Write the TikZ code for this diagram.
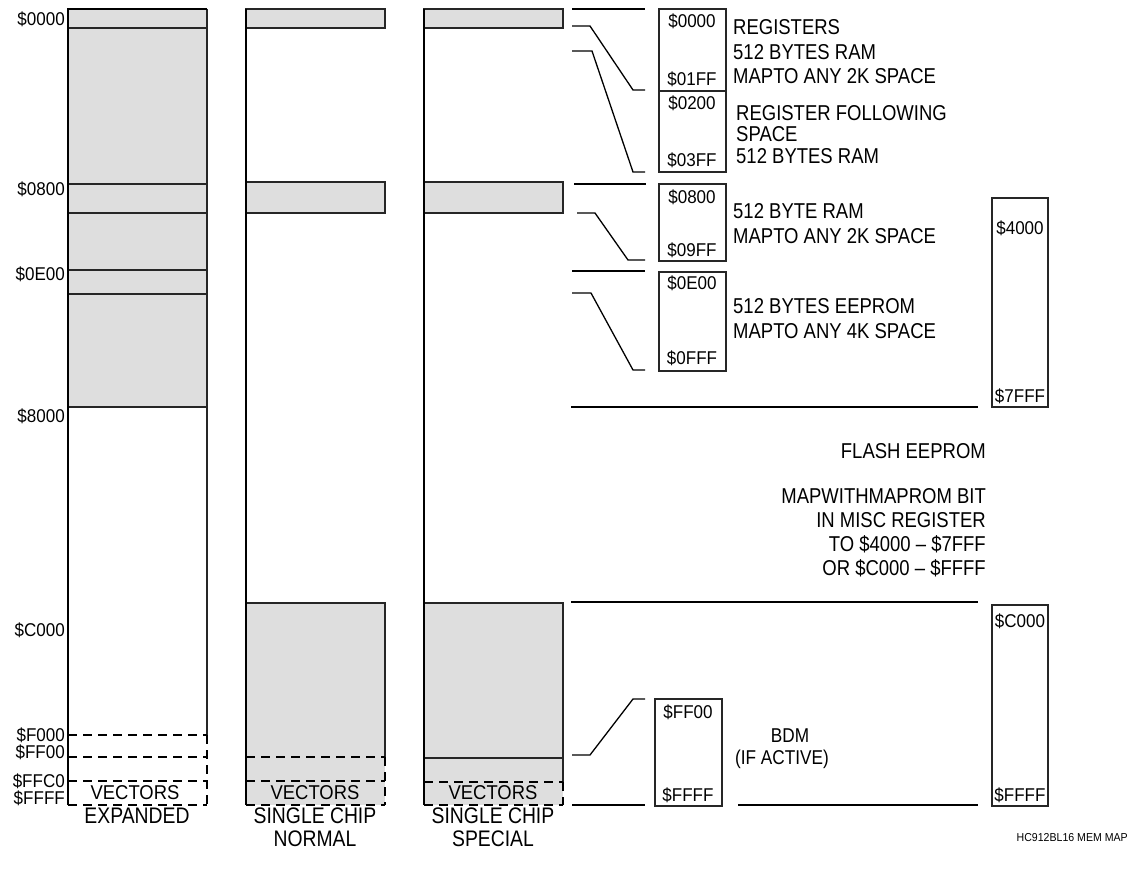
\documentclass[tikz,border=0pt]{standalone}
\usepackage{fontspec}
\setmainfont{Liberation Sans}[FakeStretch=0.92]
\newfontfamily\narrowfont{Liberation Sans}[FakeStretch=0.86,Ligatures=TeX]
\usetikzlibrary{calc}
\begin{document}
\begin{tikzpicture}[x=1pt,y=-1pt,
  thinl/.style={draw=black!85, line width=1.2pt},
  thick2/.style={draw=black, line width=2pt},
  gfill/.style={fill=black!13},
  dsh/.style={draw=black, dash pattern=on 9pt off 6pt, line width=1.8pt},
  addr/.style={font=\fontsize{18.5}{18.5}\selectfont, inner sep=0pt},
  vec/.style={font=\fontsize{20}{20}\selectfont, inner sep=0pt},
  txt/.style={font=\narrowfont\fontsize{21.5}{21.5}\selectfont, inner sep=0pt, anchor=west},
  rtxt/.style={font=\narrowfont\fontsize{21.5}{21.5}\selectfont, inner sep=0pt, anchor=east},
  clab/.style={font=\narrowfont\fontsize{22.5}{22.5}\selectfont, inner sep=0pt},
  conn/.style={draw=black, line width=1.3pt},
  sepl/.style={draw=black, line width=2pt}]
\useasboundingbox (0,0) rectangle (1136,872);
\fill[white] (0,0) rectangle (1136,872);

% ---------- column 1: expanded ----------
\fill[gfill] (68,9) rectangle (207,407);
\foreach \y in {28,184,213,270,294,407} \draw[thinl] (68,\y) -- (207,\y);
\draw[thinl] (207,9) -- (207,735);
\draw[thick2] (68,805) -- (68,9) -- (207,9);
\foreach \y in {735,757,781} \draw[dsh] (68,\y) -- (207,\y);
\draw[dsh] (207,735) -- (207,805);
\draw[dsh] (68,805) -- (207,805);
\node[vec] at (135,793) {VECTORS};

\node[addr,anchor=east] (a0000) at (65,19) {\$0000};
\node[addr,anchor=east] (a0800) at (65,189) {\$0800};
\node[addr,anchor=east] (a0E00) at (65,274) {\$0E00};
\node[addr,anchor=east] (a8000) at (65,416) {\$8000};
\node[addr,anchor=east] (aC000) at (65,630) {\$C000};
\node[addr,anchor=east] (aF000) at (65,735) {\$F000};
\node[addr,anchor=east] (aFF00) at (65,752) {\$FF00};
\node[addr,anchor=east] (aFFC0) at (65,781) {\$FFC0};
\node[addr,anchor=east] (aFFFF) at (65,798) {\$FFFF};

\node[clab] (lexp) at (137,816) {EXPANDED};

% ---------- column 2: single chip normal ----------
\filldraw[gfill,thinl] (246,9) rectangle (385,28);
\filldraw[gfill,thinl] (246,182) rectangle (385,213);
\fill[gfill] (246,603) rectangle (385,805);
\draw[thinl] (246,603) -- (385,603) -- (385,757);
\foreach \y in {757,781} \draw[dsh] (246,\y) -- (385,\y);
\draw[dsh] (385,757) -- (385,805);
\draw[dsh] (246,805) -- (385,805);
\draw[thick2] (246,9) -- (246,805);
\node[vec] at (315,793) {VECTORS};
\node[clab] (lnor1) at (315,816) {SINGLE CHIP};
\node[clab] (lnor2) at (315,839) {NORMAL};

% ---------- column 3: single chip special ----------
\filldraw[gfill,thinl] (424,9) rectangle (563,28);
\filldraw[gfill,thinl] (424,182) rectangle (563,213);
\fill[gfill] (424,603) rectangle (563,805);
\draw[thinl] (424,603) -- (563,603) -- (563,782);
\draw[thinl] (424,758) -- (563,758);
\draw[dsh] (424,782) -- (563,782);
\draw[dsh] (563,782) -- (563,805);
\draw[dsh] (424,805) -- (563,805);
\draw[thick2] (424,9) -- (424,805);
\node[vec] at (493,793) {VECTORS};
\node[clab] (lsp1) at (493,816) {SINGLE CHIP};
\node[clab] (lsp2) at (493,839) {SPECIAL};

% ---------- separator lines ----------
\draw[sepl] (572,9) -- (645,9);
\draw[sepl] (574,184) -- (646,184);
\draw[sepl] (572,271) -- (645,271);
\draw[sepl] (571,407) -- (978,407);
\draw[sepl] (571,602) -- (978,602);
\draw[sepl] (572,805) -- (645,805);
\draw[sepl] (738,805) -- (978,805);

% ---------- connectors ----------
\coordinate (s1) at (572,26);  \coordinate (e1) at (645,90);
\coordinate (s2) at (572,51);  \coordinate (e2) at (645,172);
\coordinate (s3) at (577,213); \coordinate (e3) at (645,260);
\coordinate (s4) at (572,293); \coordinate (e4) at (645,370);
\coordinate (s5) at (572,755); \coordinate (e5) at (645,699);
\draw[conn] (s1) -- ++(18,0) -- ($(e1)+(-12,0)$) -- (e1);
\draw[conn] (s2) -- ++(20,0) -- ($(e2)+(-12,0)$) -- (e2);
\draw[conn] (s3) -- ++(18,0) -- ($(e3)+(-17,0)$) -- (e3);
\draw[conn] (s4) -- ++(19,0) -- ($(e4)+(-12,0)$) -- (e4);
\draw[conn] (s5) -- ++(18,0) -- ($(e5)+(-12,0)$) -- (e5);

% ---------- small boxes ----------
\draw[thinl] (659,9) rectangle (726,91);
\draw[thinl] (659,91) rectangle (726,172);
\draw[thinl] (659,184) rectangle (726,261);
\draw[thinl] (659,272) rectangle (726,371);
\draw[thinl] (655,699) rectangle (722,806);
\draw[thinl] (992,198) rectangle (1048,407);
\draw[thinl] (992,605) rectangle (1048,806);

\node[addr] (b1t) at (692,21) {\$0000};
\node[addr] (b1b) at (692,79) {\$01FF};
\node[addr] (b2t) at (692,103) {\$0200};
\node[addr] (b2b) at (692,160) {\$03FF};
\node[addr] (b3t) at (692,197) {\$0800};
\node[addr] (b3b) at (692,250) {\$09FF};
\node[addr] (b4t) at (692,283) {\$0E00};
\node[addr] (b4b) at (692,358) {\$0FFF};
\node[addr] (b5t) at (688,712) {\$FF00};
\node[addr] (b5b) at (688,795) {\$FFFF};
\node[addr] (r1t) at (1020,228) {\$4000};
\node[addr] (r1b) at (1020,396) {\$7FFF};
\node[addr] (r2t) at (1020,621) {\$C000};
\node[addr] (r2b) at (1020,795) {\$FFFF};

% ---------- descriptions ----------
\node[txt] at (733,27) {REGISTERS};
\node[txt] at (733,52) {512 BYTES RAM};
\node[txt] at (733,76) {MAPTO ANY 2K SPACE};
\node[txt] at (736,113) {REGISTER FOLLOWING};
\node[txt] at (736,134) {SPACE};
\node[txt] at (736,156) {512 BYTES RAM};
\node[txt] at (733,211) {512 BYTE RAM};
\node[txt] at (733,236) {MAPTO ANY 2K SPACE};
\node[txt] at (733,306) {512 BYTES EEPROM};
\node[txt] at (733,331) {MAPTO ANY 4K SPACE};

\node[rtxt] at (986,451) {FLASH EEPROM};
\node[rtxt] at (986,496) {MAPWITHMAPROM BIT};
\node[rtxt] at (986,520) {IN MISC REGISTER};
\node[rtxt] at (986,544) {TO \$4000 – \$7FFF};
\node[rtxt] at (986,568) {OR \$C000 – \$FFFF};

\node[font=\narrowfont\fontsize{20}{20}\selectfont, inner sep=0pt] at (790,736) {BDM};
\node[font=\narrowfont\fontsize{20}{20}\selectfont, inner sep=0pt] at (782,759) {(IF ACTIVE)};

\node[font=\fontsize{11.5}{11.5}\selectfont, inner sep=0pt, anchor=east] at (1128,838) {HC912BL16 MEM MAP};
\end{tikzpicture}
\end{document}
